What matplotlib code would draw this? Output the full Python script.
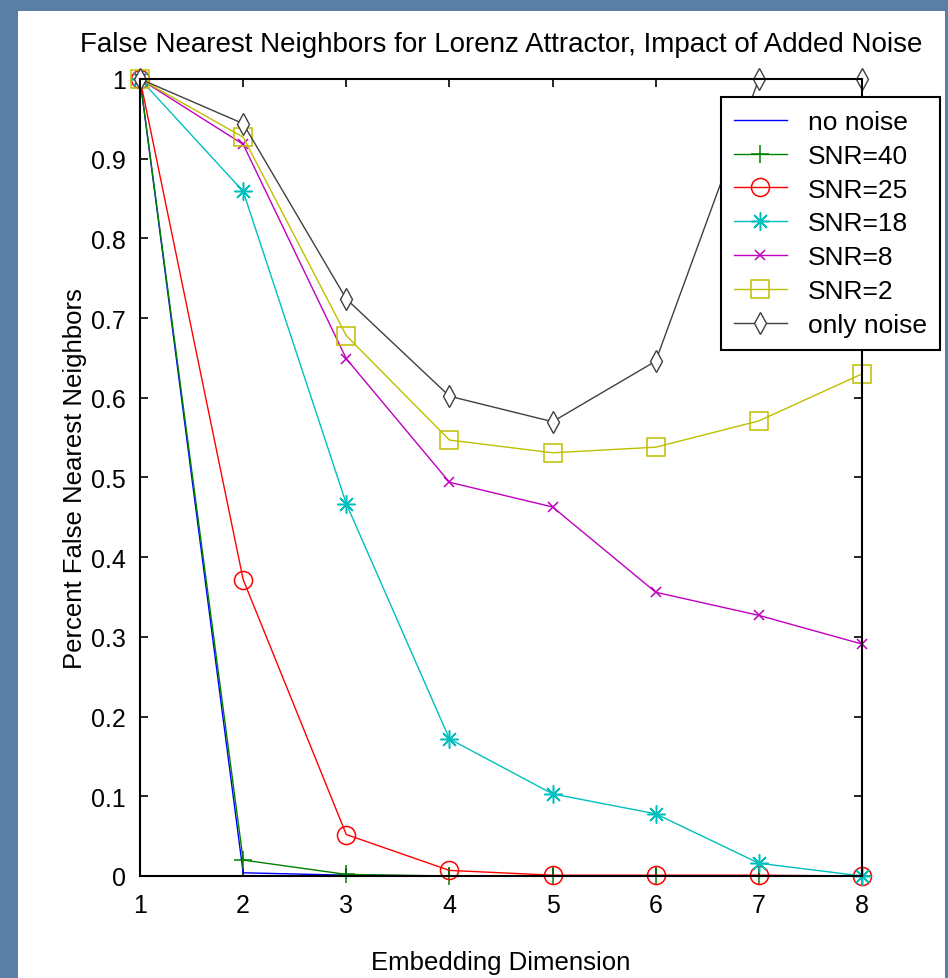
import matplotlib.pyplot as plt
import matplotlib.patches as mpatches

# embedding dimensions and false nearest neighbor fractions per noise level
dims = [1, 2, 3, 4, 5, 6, 7, 8]
no_noise = [1.0, 0.004, 0.001, 0.0, 0.0, 0.0, 0.0, 0.0]
snr40 = [1.0, 0.020, 0.002, 0.0, 0.0, 0.0, 0.0, 0.0]
snr25 = [1.0, 0.372, 0.052, 0.007, 0.001, 0.001, 0.001, 0.0]
snr18 = [1.0, 0.859, 0.467, 0.172, 0.103, 0.078, 0.016, 0.0]
snr8 = [1.0, 0.918, 0.649, 0.494, 0.463, 0.356, 0.327, 0.291]
snr2 = [1.0, 0.927, 0.678, 0.547, 0.531, 0.538, 0.571, 0.630]
only_noise = [1.0, 0.944, 0.724, 0.602, 0.570, 0.646, 1.0, 1.0]

labels = ['no noise', 'SNR=40', 'SNR=25', 'SNR=18', 'SNR=8', 'SNR=2', 'only noise']

plt.rcParams['font.family'] = ['Liberation Sans', 'DejaVu Sans']

fig = plt.figure(figsize=(9.48, 9.79), dpi=100, facecolor='#5a7ea6')
# white plotting panel over the blue background
fig.patches.append(mpatches.Rectangle((18 / 948, 0), (945 - 18) / 948, 1 - 12 / 979,
                                      transform=fig.transFigure, facecolor='white',
                                      edgecolor='none', zorder=-10))

ax = fig.add_axes([0.1477, 0.1042, 0.7616, 0.8141])
ax.set_facecolor('white')

series = [
    (no_noise, dict(color='#0000ff', marker='None')),
    (snr40, dict(color='#008000', marker='+', ms=13, mew=1.1)),
    (snr25, dict(color='#ff0000', marker='o', ms=13, mfc='none', mew=1.1)),
    (snr18, dict(color='#00bfbf', marker=(8, 2, 0), ms=13, mew=1.1)),
    (snr8, dict(color='#bf00bf', marker='x', ms=7, mew=1.1)),
    (snr2, dict(color='#bfbf00', marker='s', ms=13, mfc='none', mew=1.1)),
    (only_noise, dict(color='#404040', marker='d', ms=11, mfc='white', mew=1.0)),
]
for (vals, style), lab in zip(series, labels):
    ax.plot(dims, vals, lw=1.0, label=lab, clip_on=False, **style)

ax.set_xlim(1, 8)
ax.set_ylim(0, 1)
ax.set_xticks(dims)
ax.set_yticks([0, 0.1, 0.2, 0.3, 0.4, 0.5, 0.6, 0.7, 0.8, 0.9, 1])
ax.set_yticklabels(['0', '0.1', '0.2', '0.3', '0.4', '0.5', '0.6', '0.7', '0.8', '0.9', '1'])
ax.tick_params(direction='in', length=6, width=1.2, labelsize=18, top=True, right=True)
ax.tick_params(axis='x', pad=12)
ax.tick_params(axis='y', pad=10)
for sp in ax.spines.values():
    sp.set_linewidth(1.5)

ax.set_title('False Nearest Neighbors for Lorenz Attractor, Impact of Added Noise',
             fontsize=20, pad=20)
ax.set_xlabel('Embedding Dimension', fontsize=18.5, labelpad=24)
ax.set_ylabel('Percent False Nearest Neighbors', fontsize=18.5, labelpad=3)

leg = ax.legend(loc='upper right', bbox_to_anchor=(940 / 948, 1 - 98 / 979),
                bbox_transform=fig.transFigure, borderaxespad=0, fontsize=19,
                fancybox=False, framealpha=1, edgecolor='black', handlelength=2.0,
                labelspacing=0.37, borderpad=0.5, handletextpad=0.8)
leg.get_frame().set_linewidth(1.5)

fig.savefig('out.png', dpi=100, facecolor=fig.get_facecolor())
